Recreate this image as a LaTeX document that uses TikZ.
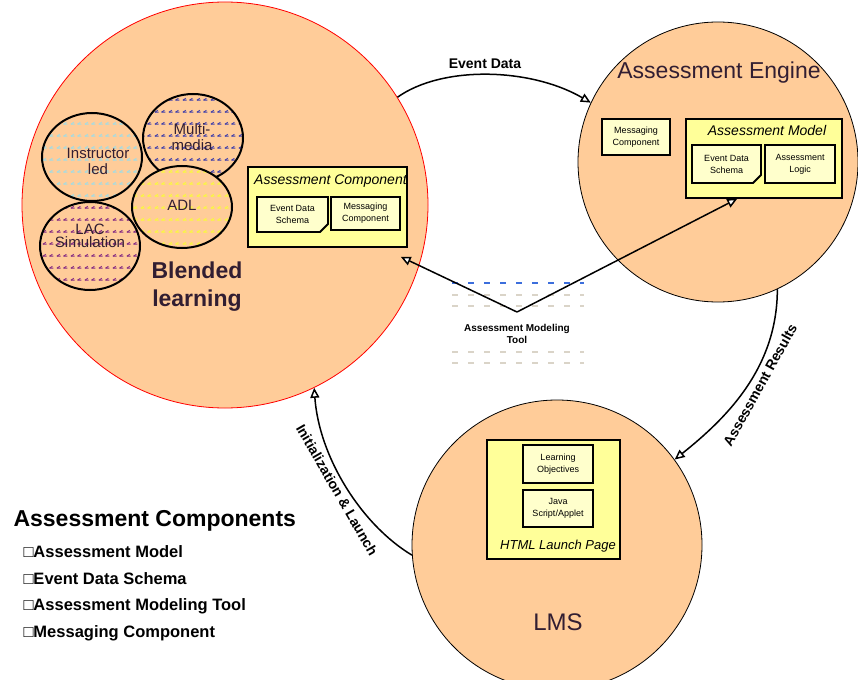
\documentclass[tikz,border=0pt]{standalone}
\usepackage{fontspec}
\setmainfont{Liberation Sans}
\usetikzlibrary{arrows.meta,shapes.geometric,shapes.misc,patterns.meta,calc}

\definecolor{peach}{RGB}{255,204,153}
\definecolor{boxyellow}{RGB}{255,255,153}
\definecolor{paleyellow}{RGB}{255,255,204}
\definecolor{inkdark}{RGB}{50,30,50}
\definecolor{hatchcyan}{RGB}{160,220,230}
\definecolor{hatchblue}{RGB}{60,60,170}
\definecolor{hatchyellow}{RGB}{250,250,60}
\definecolor{hatchpurple}{RGB}{130,40,130}
\definecolor{toolblue}{RGB}{60,110,220}
\definecolor{toolgrey}{RGB}{218,212,200}

\newcommand\fsz[2]{\fontsize{#1}{#2}\selectfont}

\tikzdeclarepattern{
  name=ticks,
  type=uncolored,
  bounding box={(0pt,0pt) and (14pt,12pt)},
  tile size={(14pt,12pt)},
  code={
    \draw [line width=1pt] (1pt,3pt) -- (5pt,3pt) (8pt,3pt) -- (12pt,3pt);
    \draw [line width=1pt] (1pt,3pt) -- (4pt,5pt) (8pt,3pt) -- (11pt,5pt);
  }
}

\tikzset{
  ring/.style={circle,draw,fill=peach,inner sep=0pt},
  blob/.style={ellipse,draw,line width=2pt,preaction={fill=peach},pattern=ticks,
    inner sep=0pt,minimum width=100pt,minimum height=88pt},
  blobtext/.style={text=inkdark,align=center,font=\fsz{15}{16},inner sep=0pt},
  heading/.style={text=inkdark,align=center,inner sep=0pt},
  panel/.style={draw,line width=1.5pt,fill=boxyellow,inner sep=0pt},
  boxtitle/.style={font=\itshape\fsz{14}{16},inner sep=0pt},
  part/.style={draw,line width=1.2pt,fill=paleyellow,align=center,inner sep=0pt,
    font=\fsz{9}{12}},
  docpart/.style={part,chamfered rectangle,chamfered rectangle corners=south east,
    chamfered rectangle xsep=4pt,chamfered rectangle ysep=4pt,line width=1.8pt},
  flow/.style={line width=1.5pt,-{Triangle[fill=white,length=10pt,width=9pt]}},
  flowlabel/.style={font=\bfseries\fsz{14}{16},inner sep=0pt},
}

\begin{document}
\begin{tikzpicture}[x=1pt,y=-1pt]
\useasboundingbox (0,0) rectangle (858,679);
\fill [white] (0,0) rectangle (858,679);

\path
    (225,205) node [ring,draw=red,line width=0.8pt,minimum size=406pt] (blend) {}
    +(-28,82) node [heading,font=\bfseries\fsz{23}{28}] (blendtitle) {Blended\\learning};
\path
    (92,157) node [blob,pattern color=hatchcyan] (instr) {}
    (193,138) node [blob,pattern color=hatchblue] (multi) {}
    (90,246) node [blob,pattern color=hatchpurple] (lac) {}
    (182,207) node [blob,pattern color=hatchyellow,minimum height=82pt] (adl) {};
\node [blobtext] (instrtext) at (98,161) {Instructor\\led};
\node [blobtext] (multitext) at (192,137) {Multi-\\media};
\node [blobtext,font=\fsz{15}{13}] (lactext) at (90,236) {LAC\\Simulation};
\node [blobtext] (adltext) at (182,205) {ADL};

\path
    (327.5,207) node [panel,minimum width=159pt,minimum height=80pt] (acomp) {}
    +(-73.5,-26) node [anchor=west,boxtitle] (acomptitle) {Assessment Component}
    +(-35,7.5) node [docpart,minimum width=71pt,minimum height=35pt] (eds) {Event Data\\Schema}
    +(38,6.5) node [part,minimum width=69pt,minimum height=33pt] (msg) {Messaging\\Component};

\path
    (718,162) node [ring,line width=0.8pt,minimum size=280pt] (engine) {}
    +(1,-89) node [heading,font=\fsz{23}{26}] (enginetitle) {Assessment Engine}
    +(-82,-25) node [part,minimum width=68pt,minimum height=36pt] (engmsg) {Messaging\\Component}
    +(46,-3.5) node [panel,minimum width=156pt,minimum height=79pt] (amodel) {}
    +(49,-31) node [boxtitle] (amodeltitle) {Assessment Model}
    +(8.5,2) node [docpart,minimum width=69pt,minimum height=38pt] (engeds) {Event Data\\Schema}
    +(82,2) node [part,minimum width=70pt,minimum height=38pt] (alogic) {Assessment\\Logic};

\path
    (557,545) node [ring,line width=0.8pt,minimum size=290pt] (lms) {}
    +(-3.5,-45.5) node [panel,minimum width=133pt,minimum height=119pt] (html) {}
    +(1,-81) node [part,minimum width=70pt,minimum height=38pt] (objectives) {Learning\\Objectives}
    +(1,-36.5) node [part,minimum width=70pt,minimum height=37pt] (java) {Java\\Script/Applet}
    +(1,1) node [boxtitle,font=\itshape\fsz{13}{15}] (htmltitle) {HTML Launch Page}
    +(1,77) node [heading,font=\fsz{24}{27}] (lmstitle) {LMS};

\draw [flow] (blend.32) .. controls +(45,-32) and +(-60,-35) .. (engine.155);
\node [flowlabel] (eventlabel) at (485,64) {Event Data};
\draw [flow] (engine.-65) .. controls +(0,80) and +(50,-40) .. (lms.36);
\node [flowlabel,rotate=61] (resultlabel) at (760,385) {Assessment Results};
\draw [flow] (lms.184) .. controls +(-50,-30) and +(5,70) .. (blend.-64);
\node [flowlabel,rotate=-60] (launchlabel) at (337,490) {Initialization \& Launch};

\foreach \y/\c in {283/toolblue,295/toolgrey,306/toolgrey,352/toolgrey,363/toolgrey}
  \draw [\c,line width=2pt,dash pattern=on 6pt off 10pt] (452,\y) -- (584,\y);
\node [font=\bfseries\fsz{10}{12},align=center,inner sep=0pt] (tool) at (517,334)
    {Assessment Modeling\\Tool};
\coordinate (apex) at (517,312);
\draw [flow] (apex) -- ([xshift=-7pt,yshift=-9pt]acomp.south east);
\draw [flow] (apex) -- ($(amodel.south west)!0.33!(amodel.south east)$);

\node [anchor=west,font=\bfseries\fsz{23}{26}] (legend) at (10,521) {Assessment Components};
\foreach \txt [count=\i] in {Assessment Model,Event Data Schema,Assessment Modeling Tool,Messaging Component}
  \node [anchor=west,font=\bfseries\fsz{16.5}{18}] (item\i) at (20,524+27.3*\i) {□\txt};
\end{tikzpicture}
\end{document}
